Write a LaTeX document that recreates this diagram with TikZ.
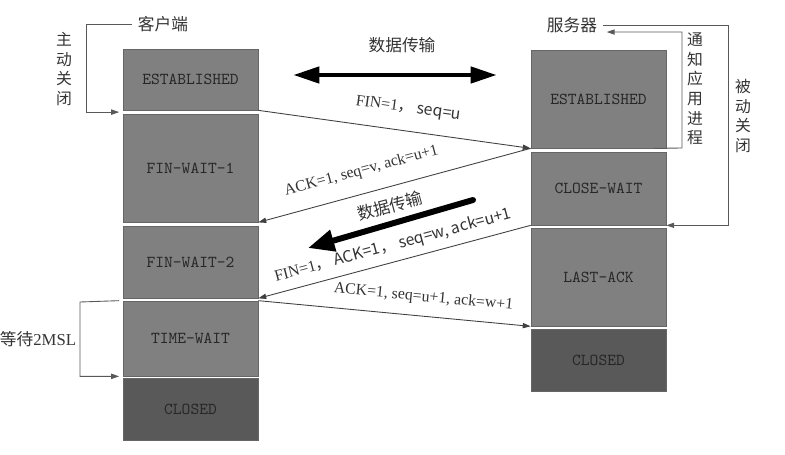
\documentclass[tikz,border=0pt]{standalone}
\usepackage{fontspec}
\setmainfont{Liberation Serif}
\newfontfamily\cjk{Noto Sans CJK SC}
\usepackage{xcolor}
\usetikzlibrary{arrows.meta,positioning}

\begin{document}
\begin{tikzpicture}[x=0.02cm,y=-0.02cm,
  state/.style={draw=black!60, fill=black!50, text=black!85, inner sep=0pt,
    font=\ttfamily\fontsize{9.5}{11}\selectfont, minimum width=2.7cm},
  closed/.style={state, fill=black!65},
  tip/.style={-{Triangle[length=4.5pt,width=3pt]}},
  msg/.style={draw=black!75, line width=0.5pt, tip},
  bracket/.style={draw=black!65, line width=0.5pt, tip},
  lbl/.style={text=black!80, font=\fontsize{9}{11}\selectfont, sloped},
  cn/.style={text=black!80, font=\cjk\fontsize{9.5}{11}\selectfont},
  vcn/.style={cn, align=center, font=\cjk\fontsize{9}{11.2}\selectfont},
  bothway/.style={line width=2.8pt, {Triangle[length=15pt,width=9pt]}-{Triangle[length=15pt,width=9pt]}},
  fat/.style={line width=3.4pt, line cap=round, -{Triangle[length=15pt,width=12pt]}},
]
  \useasboundingbox (0,0) rectangle (785,454);

  % client side
  \node[state, minimum height=1.22cm] (cES) at (190.5,79.5) {ESTABLISHED};
  \node[state, minimum height=2.16cm] (cFW1) at (190.5,168) {FIN-WAIT-1};
  \node[state, minimum height=1.44cm] (cFW2) at (190.5,262) {FIN-WAIT-2};
  \node[state, minimum height=1.5cm] (cTW) at (190.5,338.5) {TIME-WAIT};
  \node[closed, minimum height=1.24cm] (cCL) at (190.5,409) {CLOSED};

  % server side
  \node[state, minimum height=1.96cm] (sES) at (598.5,99) {ESTABLISHED};
  \node[state, minimum height=1.46cm] (sCW) at (598.5,188.5) {CLOSE-WAIT};
  \node[state, minimum height=1.96cm] (sLA) at (598.5,277) {LAST-ACK};
  \node[closed, minimum height=1.24cm] (sCL) at (598.5,360) {CLOSED};

  % labels
  \node[cn] (client) at (163,24) {客户端};
  \node[cn] (server) at (572,25) {服务器};
  \node[cn] (data1) at (402,45) {数据传输};
  \node[cn, rotate=15] (data2) at (390,206) {数据传输};
  \node[vcn] (active) at (64,69) {主\\动\\关\\闭};
  \node[vcn] (notify) at (695,89) {通\\知\\应\\用\\进\\程};
  \node[vcn] (passive) at (743,116) {被\\动\\关\\闭};
  \node[cn] (wait) at (38,339) {等待\rmfamily 2MSL};

  % data transfer arrows
  \coordinate (t1) at (293,75);
  \coordinate (t2) at (497,75);
  \draw[bothway] (t1) -- (t2);
  \coordinate (d1) at (473,200);
  \coordinate (d2) at (308,248);
  \draw[fat] (d1) -- (d2);

  % segments
  \draw[msg] (cES.south east) -- node[lbl, above=5pt, pos=0.54] {FIN=1\cjk{，} seq=u} (sES.south west);
  \draw[msg] (sES.south west) -- node[lbl, above=5pt, pos=0.6] {ACK=1, seq=v, ack=u+1} (cFW1.south east);
  \draw[msg] (sCW.south west) -- node[lbl, above=1pt, pos=0.49] {FIN=1\cjk{，} ACK=1\cjk{，} seq=w, ack=u+1} (cFW2.south east);
  \draw[msg] (cTW.north east) -- node[lbl, above=3pt, pos=0.6] {ACK=1, seq=u+1, ack=w+1} (sLA.south west);

  % brackets
  \draw[bracket] (client.west) -- (86,24) |- ([shift={(-2pt,-1pt)}]cES.south west);
  \draw[bracket] (server.east) -- (728,25) |- (sCW.south east);
  \draw[bracket] ([xshift=-7pt]sES.south east) -- (682,148) |- ([shift={(2pt,-4pt)}]server.east);
  \draw[bracket] ([xshift=-2pt]cTW.north west) -- (80,302) |- ([xshift=-2pt]cTW.south west);
\end{tikzpicture}
\end{document}
